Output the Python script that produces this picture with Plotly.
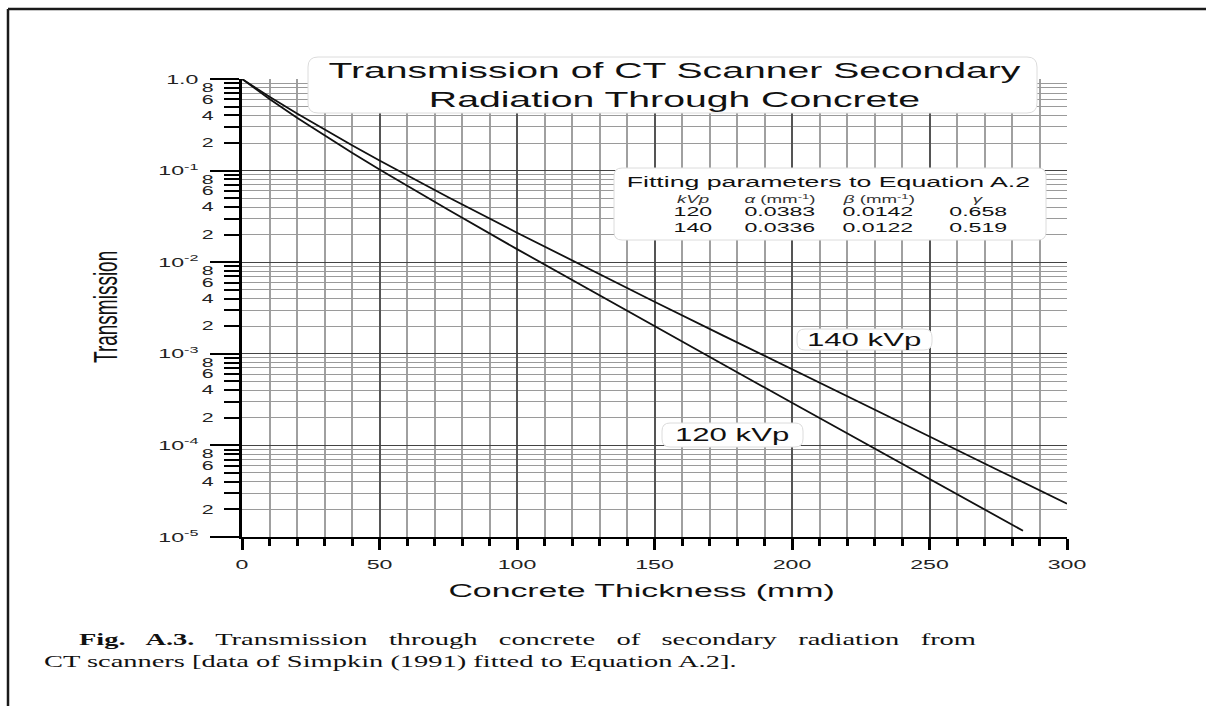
import plotly.graph_objects as go

# ---------------- data ----------------
thickness_120 = [0, 5, 10, 20, 30, 40, 50, 75, 100, 125, 150, 175, 200, 225, 250, 275, 284]
transmission_120 = [1.0, 0.774, 0.604, 0.378, 0.241, 0.157, 0.103, 0.0373, 0.0139, 0.00525,
                    0.00200, 0.000764, 0.000292, 0.000112, 4.30e-5, 1.65e-5, 1.17e-5]
thickness_140 = [0, 5, 10, 20, 30, 40, 50, 75, 100, 125, 150, 175, 200, 225, 250, 275, 300]
transmission_140 = [1.0, 0.798, 0.641, 0.420, 0.280, 0.189, 0.129, 0.0512, 0.0210, 0.00876,
                    0.00370, 0.00158, 0.000674, 0.000289, 0.000125, 5.36e-5, 2.31e-5]

decades = [1e-5, 1e-4, 1e-3, 1e-2, 1e-1, 1.0]
decade_labels = ["10<sup>-5</sup>", "10<sup>-4</sup>", "10<sup>-3</sup>", "10<sup>-2</sup>",
                 "10<sup>-1</sup>", "1.0"]
minor_label_digits = [2, 4, 6, 8]
x_major_ticks = [0, 50, 100, 150, 200, 250, 300]

table_kvp = ["120", "140"]
table_alpha = ["0.0383", "0.0336"]
table_beta = ["0.0142", "0.0122"]
table_gamma = ["0.658", "0.519"]

# ---------------- geometry helpers ----------------
W, H = 1206, 706
L, R, T, B = 242, 1067, 79, 537
PW, PH = R - L, B - T


def px(p):
    return (p - L) / PW


def py(p):
    return (B - p) / PH


def rounded_box(x0, y0, x1, y1, r=8):
    rx, ry = r / PW, r / PH
    X0, X1 = px(x0), px(x1)
    Y0, Y1 = py(y0), py(y1)  # Y0 top (larger), Y1 bottom
    return (f"M {X0+rx},{Y0} L {X1-rx},{Y0} Q {X1},{Y0} {X1},{Y0-ry} "
            f"L {X1},{Y1+ry} Q {X1},{Y1} {X1-rx},{Y1} L {X0+rx},{Y1} "
            f"Q {X0},{Y1} {X0},{Y1+ry} L {X0},{Y0-ry} Q {X0},{Y0} {X0+rx},{Y0} Z")


SANS = "Liberation Sans, Arial, Helvetica, sans-serif"
SERIF = "Liberation Serif, Times New Roman, serif"

minor_vals = [d * k for d in decades[:-1] for k in range(2, 10)]
minor_lab_vals = [d * k for d in decades[:-1] for k in minor_label_digits]
minor_lab_text = [str(k) for d in decades[:-1] for k in minor_label_digits]

fig = go.Figure()
fig.add_trace(go.Scatter(x=thickness_120, y=transmission_120, mode="lines",
                         line=dict(color="#111111", width=1.8), name="120 kVp",
                         showlegend=False))
fig.add_trace(go.Scatter(x=thickness_140, y=transmission_140, mode="lines",
                         line=dict(color="#111111", width=1.8), name="140 kVp",
                         showlegend=False))
# helper trace so the overlaying axis (minor tick labels) is drawn
fig.add_trace(go.Scatter(x=[None], y=[None], yaxis="y2", showlegend=False, hoverinfo="skip"))

fig.update_layout(
    width=W, height=H,
    margin=dict(l=L, r=W - R, t=T, b=H - B),
    paper_bgcolor="white", plot_bgcolor="white",
    showlegend=False,
    xaxis=dict(
        range=[0, 300], tickmode="array", tickvals=x_major_ticks,
        ticks="outside", ticklen=11, tickwidth=2.5, tickcolor="black",
        showline=True, linecolor="black", linewidth=2,
        showgrid=True, gridcolor="#555555", gridwidth=2.4, zeroline=False,
        tickfont=dict(family=SANS, size=13, color="#222"),
        ticklabelstandoff=3,
        minor=dict(dtick=10, tick0=0, ticks="outside", ticklen=7, tickwidth=2.5,
                   tickcolor="black", showgrid=True, gridcolor="#a0a0a0", gridwidth=1.8),
    ),
    yaxis=dict(
        type="log", range=[-5, 0], tickmode="array", tickvals=decades, ticktext=decade_labels,
        ticks="outside", ticklen=29, tickwidth=2, tickcolor="black",
        showline=True, linecolor="black", linewidth=3,
        showgrid=True, gridcolor="#444444", gridwidth=1.4, zeroline=False,
        tickfont=dict(family=SANS, size=13, color="#222"),
        ticklabelstandoff=9,
        minor=dict(tickmode="array", tickvals=minor_vals, ticks="outside", ticklen=15,
                   tickwidth=1.6, tickcolor="black", showgrid=True,
                   gridcolor="#9a9a9a", gridwidth=1),
    ),
    yaxis2=dict(
        type="log", range=[-5, 0], overlaying="y", side="left",
        tickmode="array", tickvals=minor_lab_vals, ticktext=minor_lab_text,
        ticks="", showgrid=False, showline=False, zeroline=False,
        tickfont=dict(family=SANS, size=12, color="#222"),
        ticklabelstandoff=27,
    ),
)

# ---------------- boxes ----------------
box_style = dict(type="path", xref="paper", yref="paper", layer="above",
                 fillcolor="white", line=dict(color="#dcdcdc", width=1))
fig.add_shape(path=rounded_box(308, 57, 1037, 113, 10), **box_style)
fig.add_shape(path=rounded_box(614, 168, 1046, 240, 8), **box_style)
fig.add_shape(path=rounded_box(797, 329, 932, 350, 8), **box_style)
fig.add_shape(path=rounded_box(662, 423, 803, 447, 8), **box_style)

# page frame
frame = dict(type="line", xref="paper", yref="paper", line=dict(color="#1a1a1a", width=2.5))
fig.add_shape(x0=px(8), x1=px(W), y0=py(9), y1=py(9), **frame)
fig.add_shape(x0=px(8), x1=px(8), y0=py(9), y1=py(H), **frame)

# ---------------- text ----------------
def ann(text, x, y, size, family=SANS, xanchor="center", color="#111", **kw):
    fig.add_annotation(text=text, x=px(x), y=py(y), xref="paper", yref="paper",
                       xanchor=xanchor, yanchor="middle", showarrow=False,
                       font=dict(family=family, size=size, color=color), **kw)


ann("Transmission of CT Scanner Secondary<br>Radiation Through Concrete", 674, 85, 22)
ann("Fitting parameters to Equation A.2", 828, 181, 15)
col_x = [693, 780, 878, 978]
headers = ["<i>kVp</i>", "<i>α</i> (mm<sup>-1</sup>)", "<i>β</i> (mm<sup>-1</sup>)", "<i>γ</i>"]
for cx, h in zip(col_x, headers):
    ann(h, cx, 199, 10.5, color="#333")
for row_y, vals in zip([212, 227], zip(table_kvp, table_alpha, table_beta, table_gamma)):
    for cx, v in zip(col_x, vals):
        ann(v, cx, row_y, 13)

ann("140 kVp", 864, 339.5, 17.5)
ann("120 kVp", 732, 435, 17.5)

ann("Concrete Thickness (mm)", 641, 590, 19)
ann("Transmission", 105, 307, 19, textangle=-90)

SP = "\u2002 "  # widened word gap (the caption's first line is justified)
caption_line1 = SP.join(["<b>Fig.", "A.3.</b>", "Transmission", "through", "concrete", "of",
                         "secondary", "radiation", "from"])
ann(caption_line1, 77, 640, 16, family=SERIF, xanchor="left", align="left")
ann("CT scanners [data of Simpkin (1991) fitted to Equation A.2].",
    42, 662, 16, family=SERIF, xanchor="left", align="left")

# The reference image is horizontally stretched (~1.78x); stretch glyphs likewise.
post = """
document.body.style.margin = '0';
document.body.style.padding = '0';
var gd = document.getElementById('{plot_id}');
var S = 1.78;
var texts = gd.querySelectorAll('svg text');
for (var i = 0; i < texts.length; i++) {
  var t = texts[i];
  if (!t.textContent || !t.textContent.trim()) continue;
  var bb = t.getBBox();
  var m = t.getCTM();
  var rot = Math.abs(m.b) > Math.abs(m.a);
  var tr = t.getAttribute('transform') || '';
  var extra;
  if (rot) {
    var cy = bb.y + bb.height / 2;
    extra = ' translate(0,' + cy + ') scale(1,' + S + ') translate(0,' + (-cy) + ')';
  } else {
    var anc = t.getAttribute('text-anchor') || 'start';
    var cx = anc === 'middle' ? bb.x + bb.width / 2 : (anc === 'end' ? bb.x + bb.width : bb.x);
    extra = ' translate(' + cx + ',0) scale(' + S + ',1) translate(' + (-cx) + ',0)';
  }
  t.setAttribute('transform', tr + extra);
}
"""

fig.write_html("out.html", config={"displayModeBar": False}, post_script=post)
